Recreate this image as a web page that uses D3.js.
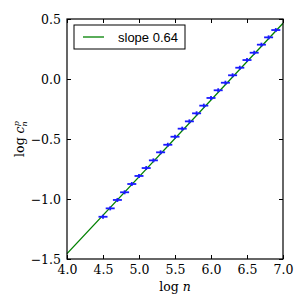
<!DOCTYPE html>
<html><head><meta charset="utf-8">
<script src="https://cdn.jsdelivr.net/npm/d3@7"></script>
<style>body{margin:0;background:#fff}svg{display:block}</style>
</head><body>
<script>
const logN = [4.5,4.6,4.7,4.8,4.9,5.0,5.1,5.2,5.3,5.4,5.5,5.6,5.7,5.8,5.9,6.0,6.1,6.2,6.3,6.4,6.5,6.6,6.7,6.8,6.9];
const logC = [-1.148,-1.078,-1.008,-0.944,-0.875,-0.808,-0.742,-0.678,-0.611,-0.548,-0.481,-0.414,-0.353,-0.286,-0.222,-0.158,-0.094,-0.031,0.031,0.094,0.158,0.219,0.286,0.347,0.408];
const fitX = [4.0, 7.0];
const fitY = [-1.455, 0.465];
const xTicks = [4.0,4.5,5.0,5.5,6.0,6.5,7.0];
const yTicks = [-1.5,-1.0,-0.5,0.0,0.5];
const legendLabel = "slope 0.64";

const W=306,H=306;
const m={l:67,r:23,t:19,b:47};
const svg=d3.select("body").append("svg").attr("width",W).attr("height",H);
const x=d3.scaleLinear().domain([4,7]).range([m.l,W-m.r]);
const y=d3.scaleLinear().domain([-1.5,0.5]).range([H-m.b,m.t]);
const fmt=v=>(v<0?"\u2212":"")+Math.abs(v).toFixed(1);
const serif="'DejaVu Serif', serif";

// fit line
const line=d3.line().x(d=>x(d[0])).y(d=>y(d[1]));
svg.append("path").datum(fitX.map((v,i)=>[v,fitY[i]])).attr("d",line)
  .attr("stroke","#008000").attr("stroke-width",1.3).attr("fill","none");

// markers
const g=svg.append("g");
logN.forEach((v,i)=>{
  const cx=x(v),cy=y(logC[i]);
  g.append("line").attr("x1",cx-4.5).attr("x2",cx+4.5).attr("y1",cy).attr("y2",cy).attr("stroke","#1a1aff").attr("stroke-width",1.8);
  g.append("line").attr("x1",cx).attr("x2",cx).attr("y1",cy-2).attr("y2",cy+2).attr("stroke","#1a1aff").attr("stroke-width",1.8);
});

// axes (inward ticks on all sides)
const axB=d3.axisBottom(x).tickValues(xTicks).tickSizeInner(-4).tickSizeOuter(0).tickPadding(6).tickFormat(fmt);
const axT=d3.axisTop(x).tickValues(xTicks).tickSizeInner(-4).tickSizeOuter(0).tickFormat("");
const axL=d3.axisLeft(y).tickValues(yTicks).tickSizeInner(-4).tickSizeOuter(0).tickPadding(6).tickFormat(fmt);
const axR=d3.axisRight(y).tickValues(yTicks).tickSizeInner(-4).tickSizeOuter(0).tickFormat("");
function style(sel){sel.select(".domain").remove();sel.selectAll("line").attr("stroke","#000");sel.selectAll("text").attr("font-family",serif).attr("font-size",12.5).attr("fill","#000");}
svg.append("g").attr("transform",`translate(0,${H-m.b})`).call(axB).call(style);
svg.append("g").attr("transform",`translate(0,${m.t})`).call(axT).call(style);
svg.append("g").attr("transform",`translate(${m.l},0)`).call(axL).call(style);
svg.append("g").attr("transform",`translate(${W-m.r},0)`).call(axR).call(style);
svg.append("rect").attr("x",m.l).attr("y",m.t).attr("width",W-m.l-m.r).attr("height",H-m.t-m.b)
  .attr("fill","none").attr("stroke","#000").attr("stroke-width",1.2);

// labels
svg.append("text").attr("x",(m.l+W-m.r)/2).attr("y",291).attr("text-anchor","middle")
  .attr("font-family",serif).attr("font-size",12.5).text("log ").append("tspan").attr("font-style","italic").text("n");
const yl=svg.append("text").attr("transform","translate(24,139) rotate(-90)").attr("text-anchor","middle")
  .attr("font-family",serif).attr("font-size",12.5);
yl.append("tspan").text("log ");
yl.append("tspan").attr("font-style","italic").text("c");
yl.append("tspan").attr("font-style","italic").attr("font-size",8).attr("dy",3).attr("dx",0).text("n");
yl.append("tspan").attr("font-style","italic").attr("font-size",8).attr("dy",-8).attr("dx",-5).text("p");

// legend
const lg=svg.append("g");
lg.append("rect").attr("x",74).attr("y",25).attr("width",111).attr("height",24).attr("fill","#fff").attr("stroke","#000").attr("stroke-width",1);
lg.append("line").attr("x1",83).attr("x2",104).attr("y1",37).attr("y2",37).attr("stroke","#008000").attr("stroke-width",1.3);
lg.append("text").attr("x",118).attr("y",41.5).attr("font-family","'Liberation Sans', Arial, sans-serif").attr("font-size",13).text(legendLabel);
</script>
</body></html>
